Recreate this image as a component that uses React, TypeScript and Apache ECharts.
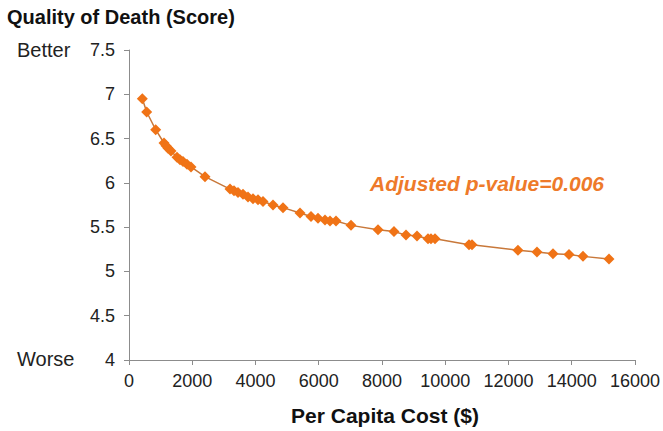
import React, { useEffect, useRef } from "react";
import * as echarts from "echarts";

const costs = [
  421, 560, 844, 1107, 1170, 1233, 1328, 1518, 1613, 1708, 1834, 1960, 2403,
  3194, 3320, 3447, 3605, 3763, 3921, 4079, 4237, 4553, 4870, 5407, 5755,
  5976, 6198, 6356, 6545, 7020, 7874, 8379, 8759, 9107, 9455, 9549, 9676,
  10751, 10846, 12300, 12901, 13407, 13913, 14356, 15178,
];
const scores = [
  6.95, 6.8, 6.6, 6.45, 6.42, 6.39, 6.36, 6.29, 6.26, 6.24, 6.21, 6.18, 6.07,
  5.93, 5.91, 5.89, 5.87, 5.84, 5.82, 5.81, 5.79, 5.75, 5.72, 5.66, 5.62,
  5.6, 5.58, 5.57, 5.57, 5.52, 5.47, 5.45, 5.41, 5.4, 5.37, 5.37, 5.37,
  5.3, 5.3, 5.24, 5.22, 5.2, 5.19, 5.17, 5.14,
];

const FONT = "'Liberation Sans', Arial, sans-serif";

export default function App() {
  const ref = useRef<HTMLDivElement>(null);
  useEffect(() => {
    if (!ref.current) return;
    const chart = echarts.init(ref.current, undefined, { renderer: "svg" });
    chart.setOption({
      animation: false,
      backgroundColor: "#ffffff",
      grid: { left: 129, right: 28, top: 50, bottom: 71 },
      xAxis: {
        type: "value",
        min: 0,
        max: 16000,
        interval: 2000,
        splitLine: { show: false },
        axisLine: { show: true, lineStyle: { color: "#8c8c8c", width: 1 } },
        axisTick: { show: true, length: 5, lineStyle: { color: "#8c8c8c" } },
        axisLabel: {
          color: "#222",
          fontSize: 18,
          fontFamily: FONT,
          margin: 12,
          formatter: (v: number) => String(v),
        },
      },
      yAxis: {
        type: "value",
        min: 4,
        max: 7.5,
        interval: 0.5,
        splitLine: { show: false },
        axisLine: { show: true, lineStyle: { color: "#8c8c8c", width: 1 } },
        axisTick: { show: true, length: 5, lineStyle: { color: "#8c8c8c" } },
        axisLabel: {
          color: "#222",
          fontSize: 18,
          fontFamily: FONT,
          margin: 14,
          formatter: (v: number) => String(v),
        },
      },
      series: [
        {
          type: "line",
          data: costs.map((c, i) => [c, scores[i]]),
          symbol: "diamond",
          symbolSize: 11,
          itemStyle: { color: "#f07316" },
          lineStyle: { color: "#c8783a", width: 1.5 },
        },
      ],
      graphic: [
        {
          type: "text",
          x: 7,
          y: 17,
          style: {
            text: "Quality of Death (Score)",
            fontSize: 20,
            fontWeight: "bold",
            fontFamily: FONT,
            fill: "#111",
            verticalAlign: "middle",
          },
        },
        {
          type: "text",
          x: 17,
          y: 50,
          style: { text: "Better", fontSize: 20, fontFamily: FONT, fill: "#222", verticalAlign: "middle" },
        },
        {
          type: "text",
          x: 17,
          y: 359,
          style: { text: "Worse", fontSize: 20, fontFamily: FONT, fill: "#222", verticalAlign: "middle" },
        },
        {
          type: "text",
          x: 385,
          y: 415,
          style: {
            text: "Per Capita Cost ($)",
            fontSize: 21,
            fontWeight: "bold",
            fontFamily: FONT,
            fill: "#111",
            align: "center",
            verticalAlign: "middle",
          },
        },
        {
          type: "text",
          x: 370,
          y: 183,
          style: {
            text: "Adjusted p-value=0.006",
            fontSize: 21,
            fontWeight: "bold",
            fontStyle: "italic",
            fontFamily: FONT,
            fill: "#ee7a2a",
            verticalAlign: "middle",
          },
        },
      ],
    });
    return () => chart.dispose();
  }, []);
  return <div ref={ref} style={{ width: 663, height: 431, position: "absolute", left: 0, top: 0 }} />;
}
